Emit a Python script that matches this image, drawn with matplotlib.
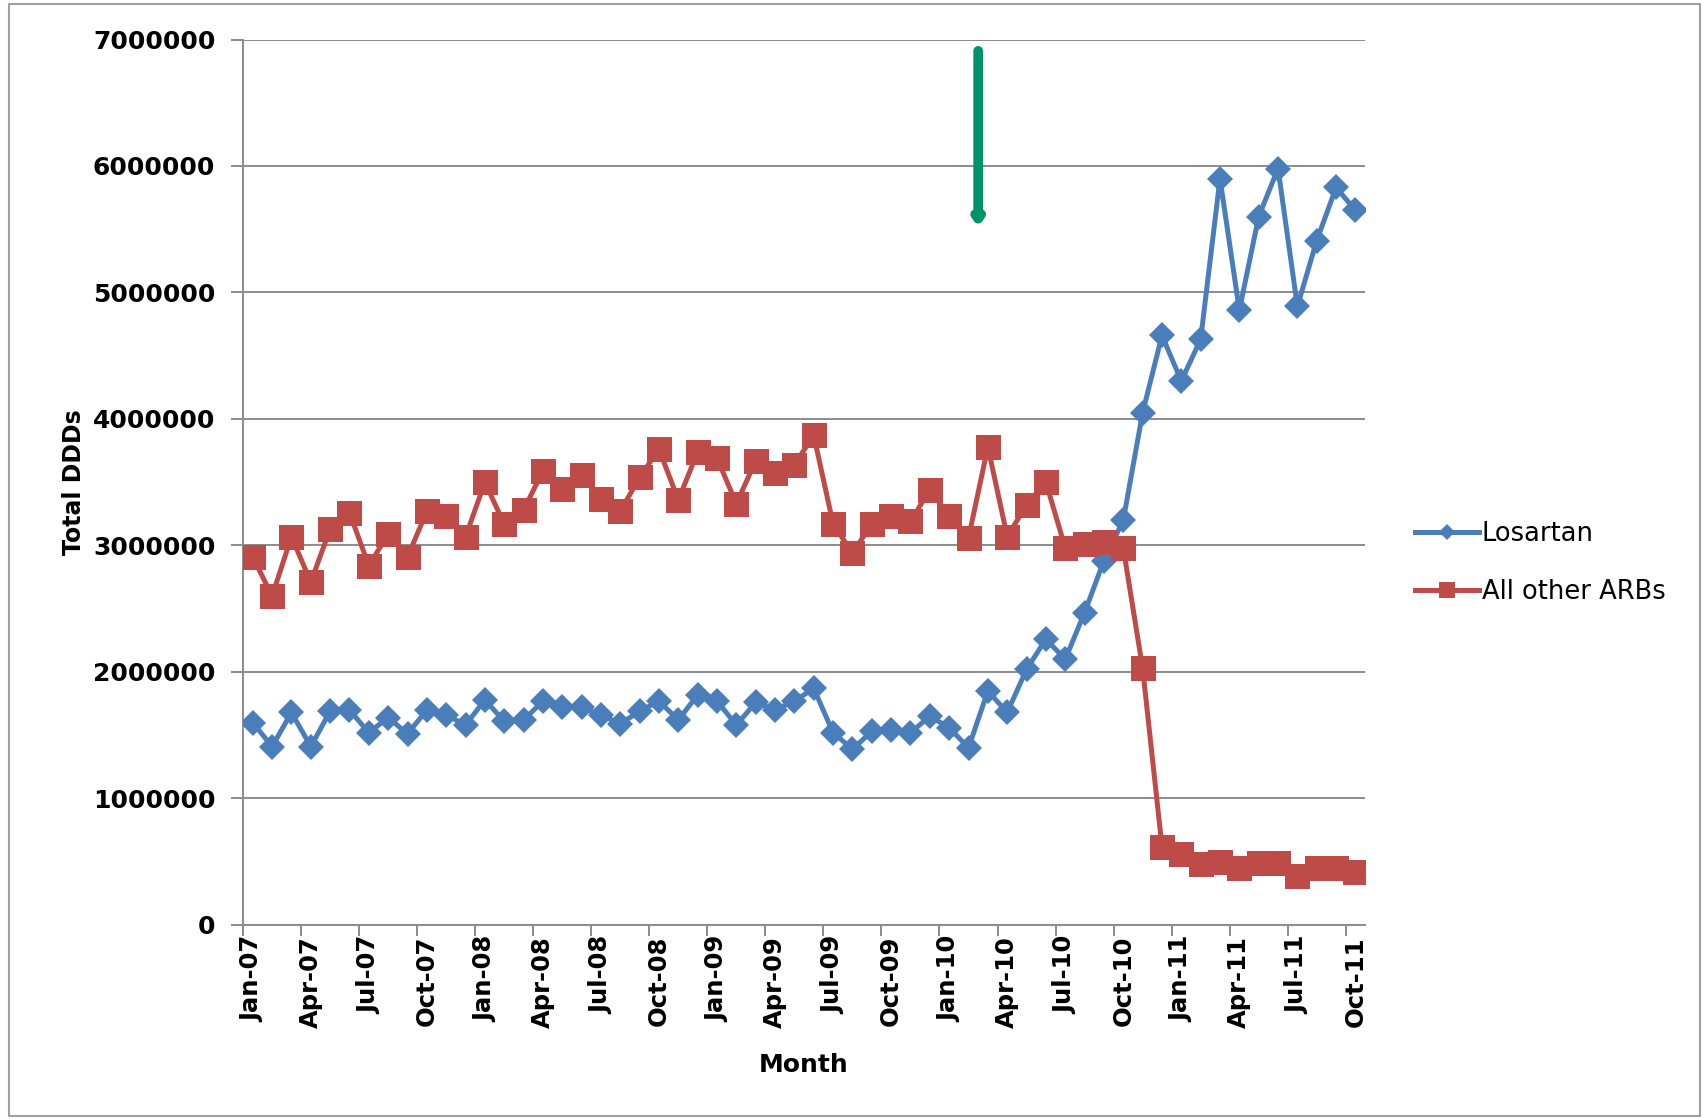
import pandas as pd
import matplotlib
matplotlib.use("Agg")
import matplotlib.pyplot as plt
from matplotlib.patches import Rectangle
from matplotlib.ticker import FixedLocator, FuncFormatter

# monthly totals, Jan 2007 .. Oct 2011
months = pd.date_range("2007-01-01", periods=58, freq="MS")

losartan = [
    1600000, 1410000, 1680000, 1410000, 1690000, 1700000, 1520000, 1640000, 1510000, 1700000,
    1660000, 1580000, 1780000, 1610000, 1620000, 1770000, 1720000, 1720000, 1660000, 1590000,
    1690000, 1770000, 1620000, 1820000, 1770000, 1580000, 1760000, 1700000, 1770000, 1870000,
    1520000, 1390000, 1530000, 1540000, 1520000, 1650000, 1560000, 1400000, 1850000, 1680000,
    2020000, 2260000, 2100000, 2470000, 2880000, 3200000, 4050000, 4660000, 4300000, 4630000,
    5900000, 4860000, 5600000, 5980000, 4890000, 5410000, 5830000, 5650000,
]

other_arbs = [
    2910000, 2600000, 3070000, 2710000, 3130000, 3260000, 2840000, 3090000, 2910000, 3270000,
    3230000, 3070000, 3500000, 3170000, 3280000, 3590000, 3450000, 3560000, 3370000, 3270000,
    3540000, 3760000, 3360000, 3740000, 3690000, 3330000, 3670000, 3570000, 3640000, 3870000,
    3170000, 2940000, 3170000, 3230000, 3190000, 3440000, 3230000, 3060000, 3780000, 3070000,
    3320000, 3500000, 2980000, 3010000, 3030000, 2980000, 2030000, 620000, 560000, 480000,
    500000, 450000, 490000, 490000, 390000, 450000, 450000, 420000,
]

series_names = ["Losartan", "All other ARBs"]
y_ticks = [0, 1000000, 2000000, 3000000, 4000000, 5000000, 6000000, 7000000]

# arrow marking the policy change (month index, DDDs)
arrow_x = 37.5
arrow_top = 6910000
arrow_tip = 5520000

blue = "#4a7ebb"
red = "#be4b48"
grid_gray = "#8c8c8c"

x = list(range(len(months)))
labels = [m.strftime("%b-%y") for m in months]

fig = plt.figure(figsize=(17.07, 11.19), dpi=100)
ax = fig.add_axes([0.1424, 0.1734, 0.6573, 0.7913])

ax.plot(x, losartan, color=blue, lw=3.6, marker="D", ms=13, mec=blue, mew=0,
        label=series_names[0], zorder=3)
ax.plot(x, other_arbs, color=red, lw=3.6, marker="s", ms=18, mec=red, mew=0,
        label=series_names[1], zorder=4)

ax.set_xlim(-0.5, len(months) - 0.5)
ax.set_ylim(0, 7000000)

# y axis
ax.set_yticks(y_ticks)
ax.yaxis.set_major_formatter(FuncFormatter(lambda v, p: f"{v:.0f}"))
ax.grid(axis="y", color=grid_gray, lw=1.4)
ax.set_axisbelow(True)
ax.tick_params(axis="y", length=9, width=1.4, color=grid_gray, pad=11, labelsize=18)
for t in ax.get_yticklabels():
    t.set_fontweight("bold")

# x axis: labels under the points, tick marks on the month boundaries
ax.xaxis.set_major_locator(FixedLocator(x[::3]))
ax.set_xticklabels(labels[::3], rotation=90, fontsize=17.5, fontweight="bold")
ax.xaxis.set_minor_locator(FixedLocator([i - 0.5 for i in x[::3]]))
ax.tick_params(axis="x", which="major", length=0, pad=8)
ax.tick_params(axis="x", which="minor", length=8, width=1.4, color=grid_gray)

for side in ["top", "right"]:
    ax.spines[side].set_visible(False)
for side in ["left", "bottom"]:
    ax.spines[side].set_color(grid_gray)
    ax.spines[side].set_linewidth(1.4)

ax.set_ylabel("Total DDDs", fontsize=17, fontweight="bold", va="center")
ax.yaxis.set_label_coords(-0.151, 0.5)
ax.set_xlabel("Month", fontsize=18, fontweight="bold")
ax.xaxis.set_label_coords(0.5, -0.145)

ax.legend(loc="center left", bbox_to_anchor=(0.829, 0.497), bbox_transform=fig.transFigure,
          frameon=False, fontsize=18.5, handlelength=2.5, handletextpad=0.1,
          labelspacing=1.25, borderpad=0, borderaxespad=0, markerscale=0.65)

ax.annotate("", xy=(arrow_x, arrow_tip), xytext=(arrow_x, arrow_top),
            arrowprops=dict(arrowstyle="-|>,head_width=0.22,head_length=0.3",
                            color="#00936b", lw=7, shrinkA=0, shrinkB=0),
            annotation_clip=False)

fig.patches.append(Rectangle((0.0053, 0.0027), 0.9906, 0.9937, transform=fig.transFigure,
                             fill=False, edgecolor="#a0a0a0", lw=1.5))

fig.savefig("out.png", dpi=100, facecolor="white")
